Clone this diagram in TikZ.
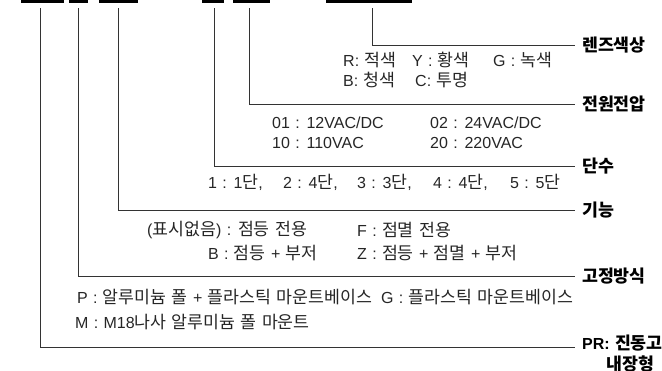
\documentclass[tikz,border=0pt]{standalone}
\usepackage{fontspec}
\setmainfont{Liberation Sans}[WordSpace=1.2]
\newfontfamily\krfont{Noto Sans CJK KR}[Scale=1.08]
\newcommand{\hgl}[1]{{\krfont #1}}
\begin{document}
\begin{tikzpicture}[x=1pt,y=-1pt,
  bar/.style={fill=black,draw=none,inner sep=0pt,minimum height=3pt},
  conn/.style={draw=black!80,line width=0.9pt},
  txt/.style={anchor=west,inner sep=0pt,text=black!85,font=\fontsize{16}{19}\selectfont},
  lab/.style={anchor=west,inner xsep=7pt,inner ysep=0pt,text=black,font=\bfseries\fontsize{16}{19}\selectfont}]
\useasboundingbox (0,0) rectangle (662,371);
% code bars
\node[bar,minimum width=43pt] (b1) at (42.5,1.5) {};
\node[bar,minimum width=19pt] (b2) at (78.5,1.5) {};
\node[bar,minimum width=39pt] (b3) at (118.5,1.5) {};
\node[bar,minimum width=22pt] (b4) at (213,1.5) {};
\node[bar,minimum width=37pt] (b5) at (251.5,1.5) {};
\node[bar,minimum width=86pt] (b6) at (369,1.5) {};
% category labels
\node[lab] (L1) at (575,45) {\hgl{렌즈색상}};
\node[lab] (L2) at (575,104) {\hgl{전원전압}};
\node[lab] (L3) at (575,166) {\hgl{단수}};
\node[lab] (L4) at (575,210) {\hgl{기능}};
\node[lab] (L5) at (575,276) {\hgl{고정방식}};
\node[lab] (L6) at (575,343) {PR: \hgl{진동고무}};
\coordinate (pr2) at (0,364);
\node[lab,anchor=center] (L6b) at (L6.center |- pr2) {\hgl{내장형}};
% connectors
\draw[conn] ([xshift=3pt,yshift=-5pt]b6.south) |- (L1.west);
\draw[conn] ([xshift=-2.5pt,yshift=-5pt]b5.south) |- (L2.west);
\draw[conn] ([xshift=1pt,yshift=-5pt]b4.south) |- (L3.west);
\draw[conn] ([xshift=-0.5pt,yshift=-5pt]b3.south) |- (L4.west);
\draw[conn] ([xshift=-0.5pt,yshift=-5pt]b2.south) |- (L5.west);
\draw[conn] ([xshift=-2.5pt,yshift=-5pt]b1.south) |- ([yshift=-4pt]L6.west);
% options
\node[txt] (r1) at (343,60) {R: \hgl{적색}};
\node[txt] (r2) at (412,60) {Y : \hgl{황색}};
\node[txt] (r3) at (493,60) {G : \hgl{녹색}};
\node[txt] (r4) at (343,80) {B: \hgl{청색}};
\node[txt] (r5) at (415,80) {C: \hgl{투명}};
\node[txt] (v1) at (272,123) {01 : 12VAC/DC};
\node[txt] (v2) at (430,123) {02 : 24VAC/DC};
\node[txt] (v3) at (272,143) {10 : 110VAC};
\node[txt] (v4) at (430,143) {20 : 220VAC};
\node[txt] (s1) at (208,182) {1 : 1\hgl{단},};
\node[txt] (s2) at (283,182) {2 : 4\hgl{단},};
\node[txt] (s3) at (357,182) {3 : 3\hgl{단},};
\node[txt] (s4) at (433,182) {4 : 4\hgl{단},};
\node[txt] (s5) at (510,182) {5 : 5\hgl{단}};
\node[txt] (f1) at (147,230) {(\hgl{표시없음}) : \hgl{점등} \hgl{전용}};
\node[txt] (f2) at (357,230) {F : \hgl{점멸} \hgl{전용}};
\node[txt] (f3) at (208,253) {B : \hgl{점등} + \hgl{부저}};
\node[txt] (f4) at (357,253) {Z : \hgl{점등} + \hgl{점멸} + \hgl{부저}};
\node[txt] (m1) at (77,297) {P : \hgl{알루미늄} \hgl{폴} + \hgl{플라스틱} \hgl{마운트베이스}};
\node[txt] (m2) at (381,297) {G : \hgl{플라스틱} \hgl{마운트베이스}};
\node[txt] (m3) at (75,322) {M : M18\hgl{나사} \hgl{알루미늄} \hgl{폴} \hgl{마운트}};
\end{tikzpicture}
\end{document}
